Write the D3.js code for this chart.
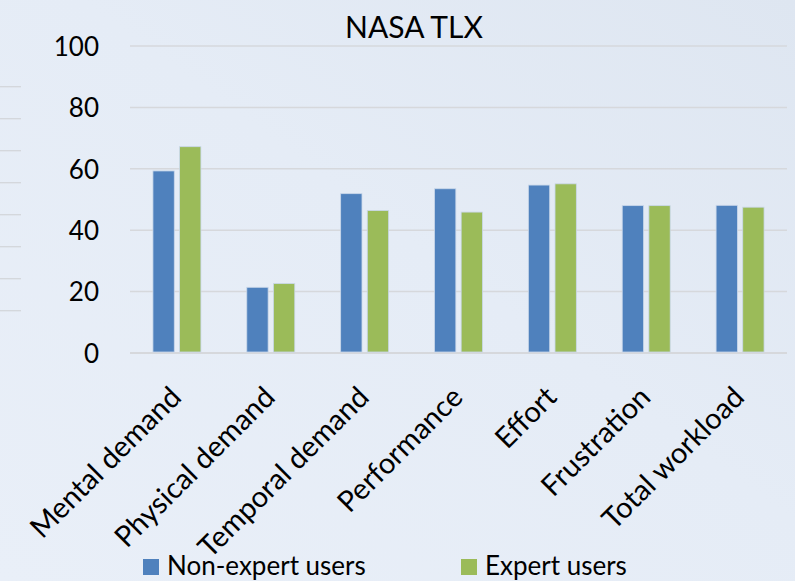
<!DOCTYPE html>
<html>
<head>
<meta charset="utf-8">
<script src="https://cdn.jsdelivr.net/npm/d3@7"></script>
<style>
  body { margin: 0; padding: 0; overflow: hidden; }
  svg { display: block; font-family: Lato, "Open Sans", sans-serif; }
</style>
</head>
<body>
<div id="chart-area"></div>
<script>
// data
var categories = ["Mental demand", "Physical demand", "Temporal demand", "Performance",
                  "Effort", "Frustration", "Total workload"];
var seriesNames = ["Non-expert users", "Expert users"];
var nonExpert = [59.3, 21.4, 51.9, 53.5, 54.7, 48.0, 48.1];
var expert = [67.2, 22.6, 46.4, 45.9, 55.1, 48.0, 47.5];
var yTicks = [0, 20, 40, 60, 80, 100];

var colors = { "Non-expert users": "#4f81bd", "Expert users": "#9bbb59" };

var W = 795, H = 581;
var margin = { left: 130, right: 8, top: 46, bottom: 228 };
var width = W - margin.left - margin.right;
var height = H - margin.top - margin.bottom;

var svg = d3.select("#chart-area")
	.append("svg")
		.attr("width", W)
		.attr("height", H);

// background (slide-ish gradient)
var defs = svg.append("defs");
var grad = defs.append("linearGradient")
	.attr("id", "bg")
	.attr("x1", "0%").attr("y1", "100%")
	.attr("x2", "100%").attr("y2", "0%");
grad.append("stop").attr("offset", "0%").attr("stop-color", "#e9eff8");
grad.append("stop").attr("offset", "55%").attr("stop-color", "#e5ecf6");
grad.append("stop").attr("offset", "100%").attr("stop-color", "#dee6f1");

svg.append("rect")
	.attr("width", W)
	.attr("height", H)
	.attr("fill", "url(#bg)");

// little decorative lines on the left edge
d3.range(8).forEach(function(i){
	svg.append("line")
		.attr("x1", 0).attr("x2", 21)
		.attr("y1", 86.7 + i*32).attr("y2", 86.7 + i*32)
		.attr("stroke", "#d3d6db")
		.attr("stroke-width", 1.3);
});

var g = svg.append("g")
	.attr("transform", "translate(" + margin.left + ", " + margin.top + ")");

//scales
var x0 = d3.scaleBand()
	.domain(categories)
	.range([0, width])
	.paddingInner(0.489)
	.paddingOuter(0.2445);

var x1 = d3.scaleBand()
	.domain(seriesNames)
	.range([0, x0.bandwidth()])
	.paddingInner(0.2);

var y = d3.scaleLinear()
	.domain([0, 100])
	.range([height, 0]);

// gridlines
g.selectAll(".grid")
	.data(yTicks)
	.enter().append("line")
		.attr("class", "grid")
		.attr("x1", 0)
		.attr("x2", width)
		.attr("y1", function(d){ return y(d); })
		.attr("y2", function(d){ return y(d); })
		.attr("stroke", "#d6d8dc")
		.attr("stroke-width", function(d){ return d == 0 ? 2 : 1.5; });

// y axis labels
var yAxisCall = d3.axisLeft(y)
	.tickValues(yTicks)
	.tickSize(0)
	.tickPadding(31);

var yAxis = g.append("g")
	.attr("class", "y axis")
	.call(yAxisCall);
yAxis.select(".domain").remove();
yAxis.selectAll("text")
	.attr("font-family", "Lato, sans-serif")
	.attr("font-size", 26)
	.attr("fill", "#000")
	.attr("dy", "0.36em");

// bars
var rows = categories.map(function(c, i){
	return { category: c, values: [
		{ series: seriesNames[0], value: nonExpert[i] },
		{ series: seriesNames[1], value: expert[i] }
	]};
});

var groups = g.selectAll(".group")
	.data(rows)
	.enter().append("g")
		.attr("class", "group")
		.attr("transform", function(d){ return "translate(" + x0(d.category) + ",0)"; });

groups.selectAll("rect")
	.data(function(d){ return d.values; })
	.enter().append("rect")
		.attr("x", function(d){ return x1(d.series); })
		.attr("y", function(d){ return y(d.value); })
		.attr("width", x1.bandwidth())
		.attr("height", function(d){ return height - y(d.value) - 1; })
		.attr("fill", function(d){ return colors[d.series]; })
		.attr("stroke", "#c9d7ea")
		.attr("stroke-width", 0.8);

// category labels, rotated
g.selectAll(".cat")
	.data(categories)
	.enter().append("text")
		.attr("class", "cat")
		.attr("text-anchor", "end")
		.attr("font-size", 29)
		.attr("fill", "#000")
		.attr("transform", function(d){
			var cx = x0(d) + x0.bandwidth()/2 + 6;
			return "translate(" + cx + "," + (height + 46) + ") rotate(-45)";
		})
		.text(function(d){ return d; });

// title
svg.append("text")
	.attr("x", 414)
	.attr("y", 38)
	.attr("text-anchor", "middle")
	.attr("font-size", 30)
	.attr("fill", "#000")
	.text("NASA TLX");

// legend
var legendX = [143, 461];
seriesNames.forEach(function(s, i){
	var row = svg.append("g")
		.attr("transform", "translate(" + legendX[i] + ", 559)");
	row.append("rect")
		.attr("width", 16)
		.attr("height", 16)
		.attr("fill", colors[s]);
	row.append("text")
		.attr("x", 24)
		.attr("y", 16)
		.attr("font-size", 26)
		.attr("fill", "#000")
		.text(s);
});
</script>
</body>
</html>
